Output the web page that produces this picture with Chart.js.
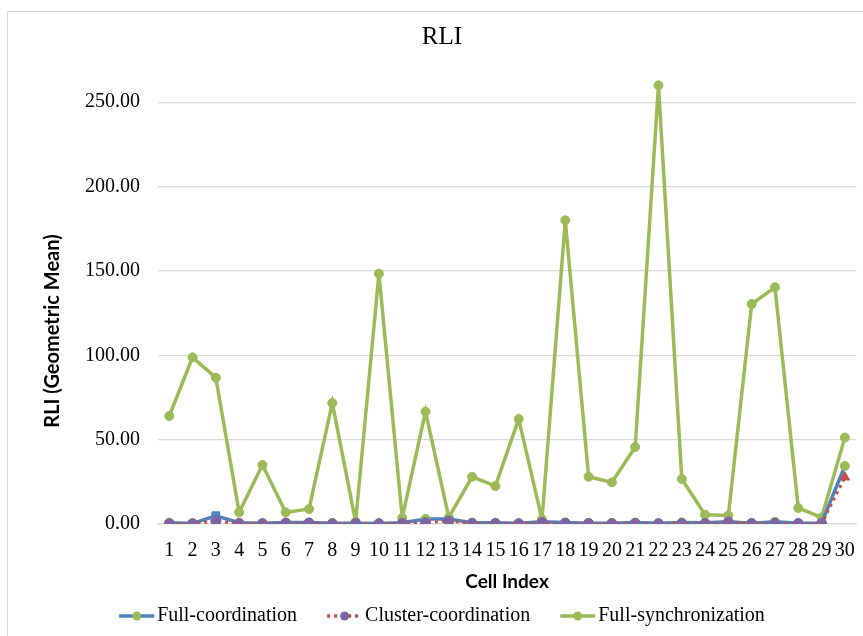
<!DOCTYPE html>
<html>
<head>
<meta charset="utf-8">
<title>RLI</title>
<style>
  html, body { margin: 0; padding: 0; background: #ffffff; }
  #wrap { position: relative; width: 863px; height: 636px; }
  canvas { display: block; }
</style>
<script src="https://cdn.jsdelivr.net/npm/chart.js@4/dist/chart.umd.min.js"></script>
</head>
<body>
<div id="wrap"><canvas id="rli" width="863" height="636"></canvas></div>
<script>
// Cell indices along the x axis
const cellIndex = ['1','2','3','4','5','6','7','8','9','10','11','12','13','14','15',
                   '16','17','18','19','20','21','22','23','24','25','26','27','28','29','30'];

// RLI (geometric mean) per cell for each scheme
const fullCoordination = [0.8, 0.3, 4.9, 0.8, 0.4, 0.9, 0.9, 0.5, 0.5, 0.3,
                          0.7, 3.0, 3.0, 0.8, 0.8, 0.4, 1.3, 0.9, 0.5, 0.5,
                          0.9, 0.4, 0.9, 0.7, 1.3, 0.5, 1.3, 0.5, 0.5, 34.4];
const clusterCoordination = [0.2, 0.2, 1.8, 0.3, 0.2, 0.5, 0.5, 0.2, 0.3, 0.2,
                             0.4, 0.8, 1.8, 0.3, 0.3, 0.2, 0.8, 0.5, 0.3, 0.3,
                             0.3, 0.2, 0.3, 0.3, 1.2, 0.3, 0.4, 0.3, 0.3, 27.7];
const fullSynchronization = [64.0, 98.8, 86.7, 6.9, 35.0, 6.9, 8.9, 71.7, 1.4, 148.4,
                             3.6, 66.6, 3.9, 28.0, 22.5, 62.2, 2.8, 180.0, 28.0, 24.7,
                             45.6, 260.0, 26.7, 5.5, 5.1, 130.4, 140.3, 9.5, 3.9, 51.2];

// Value axis tick positions
const yTickValues = [0, 50, 100, 150, 200, 250];

const BLUE = '#4f81bd';
const RED = '#c0504d';
const GREEN = '#9bbb59';
const PURPLE = '#8064a2';
const GRID = '#d9d9d9';
const SERIF = '"Liberation Serif", "Times New Roman", serif';
const SANS_BOLD = 'Lato, "Open Sans", sans-serif';

// Small line-plus-marker swatches for the legend
function legendSwatch(lineColor, dash, markerColor) {
  const c = document.createElement('canvas');
  c.width = 44; c.height = 12;
  const g = c.getContext('2d');
  g.strokeStyle = lineColor;
  g.lineWidth = 3.5;
  g.setLineDash(dash);
  g.beginPath();
  g.moveTo(8, 6); g.lineTo(43, 6);
  g.stroke();
  g.setLineDash([]);
  g.fillStyle = markerColor;
  g.beginPath();
  g.arc(25.5, 6, 4.5, 0, Math.PI * 2);
  g.fill();
  return c;
}

// Outer frame of the chart
const framePlugin = {
  id: 'frame',
  beforeDraw(chart) {
    const ctx = chart.ctx;
    ctx.save();
    ctx.fillStyle = '#ffffff';
    ctx.fillRect(0, 0, chart.width, chart.height);
    ctx.strokeStyle = GRID;
    ctx.lineWidth = 1;
    ctx.strokeRect(7.5, 11.5, 1000, 1000);
    ctx.restore();
  }
};

// Rotated value-axis title
const yTitlePlugin = {
  id: 'yTitle',
  afterDraw(chart) {
    const ctx = chart.ctx;
    ctx.save();
    ctx.translate(53, 331);
    ctx.rotate(-Math.PI / 2);
    ctx.font = 'bold 20px ' + SANS_BOLD;
    ctx.fillStyle = '#000000';
    ctx.textAlign = 'center';
    ctx.textBaseline = 'middle';
    ctx.fillText('RLI (Geometric Mean)', 0, 0);
    ctx.restore();
  }
};

const swatches = [
  { text: 'Full-coordination', img: legendSwatch(BLUE, [], GREEN), color: BLUE },
  { text: 'Cluster-coordination', img: legendSwatch(RED, [3, 4], PURPLE), color: RED },
  { text: 'Full-synchronization', img: legendSwatch(GREEN, [], GREEN), color: GREEN }
];

new Chart(document.getElementById('rli'), {
  type: 'line',
  data: {
    labels: cellIndex,
    datasets: [
      {
        label: 'Full-coordination',
        data: fullCoordination,
        borderColor: BLUE,
        borderWidth: 3.5,
        pointStyle: (c) => (c.dataIndex === 2 ? 'rect' : 'circle'),
        pointRadius: (c) => (c.dataIndex === 2 ? 5.5 : 4.5),
        pointBackgroundColor: (c) => (c.dataIndex === 2 ? BLUE : GREEN),
        pointBorderColor: (c) => (c.dataIndex === 2 ? BLUE : GREEN),
        pointBorderWidth: 1,
        tension: 0,
        order: 1
      },
      {
        label: 'Cluster-coordination',
        data: clusterCoordination,
        borderColor: RED,
        borderWidth: 3,
        borderDash: [3, 4],
        pointStyle: (c) => (c.dataIndex === cellIndex.length - 1 ? 'triangle' : 'circle'),
        pointRadius: (c) => (c.dataIndex === cellIndex.length - 1 ? 5.5 : 5),
        pointBackgroundColor: (c) => (c.dataIndex === cellIndex.length - 1 ? RED : PURPLE),
        pointBorderColor: (c) => (c.dataIndex === cellIndex.length - 1 ? RED : PURPLE),
        pointBorderWidth: 1,
        tension: 0,
        order: 0
      },
      {
        label: 'Full-synchronization',
        data: fullSynchronization,
        borderColor: GREEN,
        borderWidth: 3.5,
        pointStyle: 'circle',
        pointRadius: 4.5,
        pointBackgroundColor: GREEN,
        pointBorderColor: GREEN,
        pointBorderWidth: 1,
        tension: 0,
        order: 2
      }
    ]
  },
  options: {
    responsive: false,
    animation: false,
    devicePixelRatio: 1,
    layout: { padding: { left: 24, right: 3, top: 0, bottom: 0 } },
    plugins: {
      title: {
        display: true,
        text: 'RLI',
        color: '#000000',
        font: { family: SERIF, size: 25, weight: 'normal' },
        padding: { top: 22, bottom: 16.5 }
      },
      legend: {
        position: 'bottom',
        labels: {
          usePointStyle: true,
          pointStyleWidth: 28,
          padding: 30,
          color: '#000000',
          font: { family: SERIF, size: 20 },
          generateLabels: () => swatches.map((s, i) => ({
            text: s.text,
            pointStyle: s.img,
            fillStyle: s.color,
            strokeStyle: s.color,
            lineWidth: 0,
            hidden: false,
            datasetIndex: i
          }))
        }
      },
      tooltip: { enabled: false }
    },
    scales: {
      x: {
        offset: true,
        grid: { display: false },
        border: { display: true, color: GRID, width: 1.3 },
        ticks: {
          autoSkip: false,
          maxRotation: 0,
          minRotation: 0,
          padding: 7,
          color: '#000000',
          font: { family: SERIF, size: 20 }
        },
        title: {
          display: true,
          text: 'Cell Index',
          color: '#000000',
          font: { family: SANS_BOLD, size: 19, weight: 'bold' },
          padding: { top: 0, bottom: -17.4 }
        },
        afterFit(scale) { scale.height = 52; }
      },
      y: {
        min: 0,
        max: 270,
        grid: { color: GRID, lineWidth: 1.3, drawTicks: false },
        border: { display: false },
        afterBuildTicks(scale) {
          scale.ticks = yTickValues.map((v) => ({ value: v }));
        },
        ticks: {
          padding: 17.6,
          color: '#000000',
          font: { family: SERIF, size: 20 },
          callback: (v) => Number(v).toFixed(2)
        },
        afterFit(scale) { scale.width = 133.6; }
      }
    }
  },
  plugins: [framePlugin, yTitlePlugin]
});
</script>
</body>
</html>
